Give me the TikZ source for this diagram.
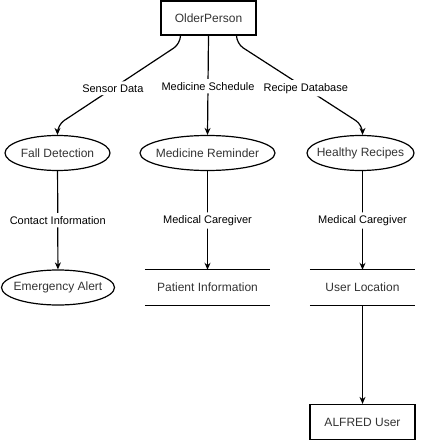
\documentclass[tikz,border=0pt]{standalone}
\usepackage{fontspec}
\setmainfont{Liberation Sans}
\usetikzlibrary{arrows.meta,shapes.geometric}
\definecolor{nodetext}{RGB}{51,51,51}
\tikzset{
  entity/.style={draw, line width=1.2pt, minimum width=95pt, minimum height=34pt, inner sep=0pt, font=\fontsize{12}{14}\selectfont, text=nodetext},
  process/.style={draw, ellipse, line width=1.2pt, minimum height=35pt, inner xsep=-9pt, inner ysep=0pt, font=\fontsize{12}{14}\selectfont, text=nodetext},
  datastore/.style={minimum height=35pt, inner sep=0pt, font=\fontsize{12}{14}\selectfont, text=nodetext},
  flow/.style={line width=1.2pt, -{Stealth[length=7pt,width=6pt]}, rounded corners=8pt},
  flowlabel/.style={fill=white, font=\fontsize{11}{13}\selectfont, inner xsep=1.5pt, inner ysep=3pt}
}
\begin{document}
\begin{tikzpicture}[x=1pt,y=1pt]
\useasboundingbox (0,0) rectangle (421,-441);
% nodes
\node[entity] (older) at (208.5,-18) {OlderPerson};
\node[process, minimum width=105pt] (fall) at (57.5,-153) {Fall Detection};
\node[process, minimum width=135pt] (medrem) at (207.5,-153) {Medicine Reminder};
\node[process, minimum width=107pt] (recipes) at (360.5,-153) {Healthy Recipes};
\node[process, minimum width=113pt] (alert) at (58,-287.5) {Emergency Alert};
\node[datastore, minimum width=125pt] (patient) at (207.5,-287.5) {Patient Information};
\node[datastore, minimum width=105pt] (location) at (362.5,-287.5) {User Location};
\node[entity, minimum width=105pt, minimum height=35pt] (alfred) at (362.5,-422) {ALFRED User};
% data store lines
\draw[line width=1.2pt] (patient.north west) -- (patient.north east) (patient.south west) -- (patient.south east);
\draw[line width=1.2pt] (location.north west) -- (location.north east) (location.south west) -- (location.south east);
% flows
\draw[flow] ([xshift=-28pt]older.south) -- ++(0,-8) -- node[flowlabel, pos=0.55] {Sensor Data} ([yshift=10pt]fall.north) -- (fall.north);
\draw[flow] (older.south) -- node[flowlabel, pos=0.51] {Medicine Schedule} (medrem.north);
\draw[flow] ([xshift=28pt]older.south) -- ++(0,-8) -- node[flowlabel, pos=0.55] {Recipe Database} ([yshift=10pt]location.north |- recipes.north) -- (location.north |- recipes.north);
\draw[flow] (fall) -- node[flowlabel] {Contact Information} (alert);
\draw[flow] (medrem) -- node[flowlabel] {Medical Caregiver} (patient);
\draw[flow] (recipes.south -| location) -- node[flowlabel] {Medical Caregiver} (location.north);
\draw[flow] (location.south) -- (alfred.north);
\end{tikzpicture}
\end{document}
